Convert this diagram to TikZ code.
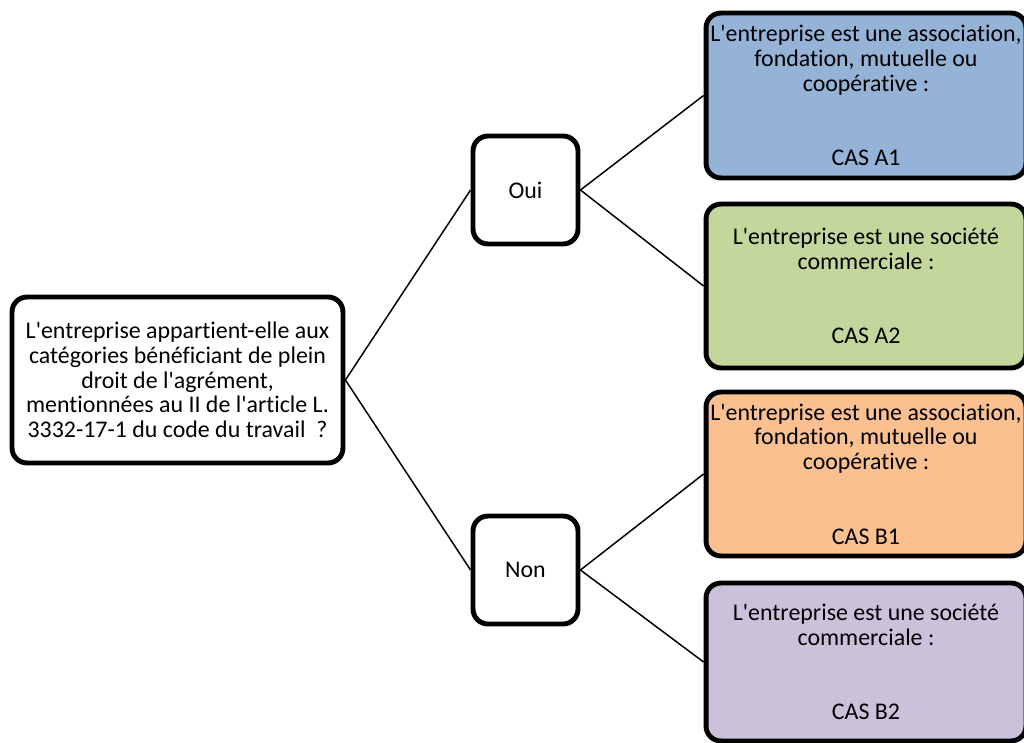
\documentclass[tikz,border=0pt]{standalone}
\usepackage{fontspec}
\setmainfont{Carlito}[RawFeature={-liga;-clig;-calt;-dlig}]
\definecolor{casblue}{HTML}{95B3D7}
\definecolor{casgreen}{HTML}{C3D69B}
\definecolor{casorange}{HTML}{FAC090}
\definecolor{caspurple}{HTML}{CCC1DA}
\newcommand{\apos}{\textquotesingle}

\begin{document}
\begin{tikzpicture}[
  x=0.02cm,
  y=-0.02cm,
  every node/.style={font=\fontsize{13.6}{14.1}\selectfont, align=center, inner sep=0pt},
  box/.style={draw=black, line width=2.8pt, rounded corners=8.5pt},
  question/.style={box, fill=white, minimum width=6.62cm, minimum height=3.32cm},
  answer/.style={box, fill=white, minimum width=2.1cm, minimum height=2.16cm},
  casbox/.style={box, minimum width=6.4cm, minimum height=3.28cm},
  link/.style={black, line width=0.85pt}
]
  % ---- frame ----
  \useasboundingbox (0,0) rectangle (1024,743);
  \clip (0,0) rectangle (1024,743);

  % ---- question ----
  \node[question] (quest) at (177.5,380)
    {L\apos entreprise appartient-elle aux\\ catégories bénéficiant de plein\\
     droit de l\apos agrément,\\ mentionnées au II de l\apos article L.\\
     3332-17-1 du code du travail~ ?};

  % ---- answers ----
  \node[answer] (oui) at (525.5,190) {Oui};
  \node[answer] (non) at (525.5,570) {Non};

  % ---- cases ----
  \node[casbox, fill=casblue, minimum height=3.3cm] (a1) at (866,95.5)
    {L\apos entreprise est une association,\\ fondation, mutuelle ou\\ coopérative :\\ \\ \\ CAS A1};
  \node[casbox, fill=casgreen] (a2) at (866,286)
    {L\apos entreprise est une société\\ commerciale :\\ \\ \\ CAS A2};
  \node[casbox, fill=casorange] (b1) at (866,474)
    {L\apos entreprise est une association,\\ fondation, mutuelle ou\\ coopérative :\\ \\ \\ CAS B1};
  \node[casbox, fill=caspurple, minimum height=3.16cm] (b2) at (866,662)
    {L\apos entreprise est une société\\ commerciale :\\ \\ \\ CAS B2};

  % ---- links ----
  \draw[link] (quest.east) -- (oui.west);
  \draw[link] (quest.east) -- (non.west);
  \draw[link] (oui.east) -- (a1.west);
  \draw[link] (oui.east) -- (a2.west);
  \draw[link] (non.east) -- (b1.west);
  \draw[link] (non.east) -- (b2.west);
\end{tikzpicture}
\end{document}
